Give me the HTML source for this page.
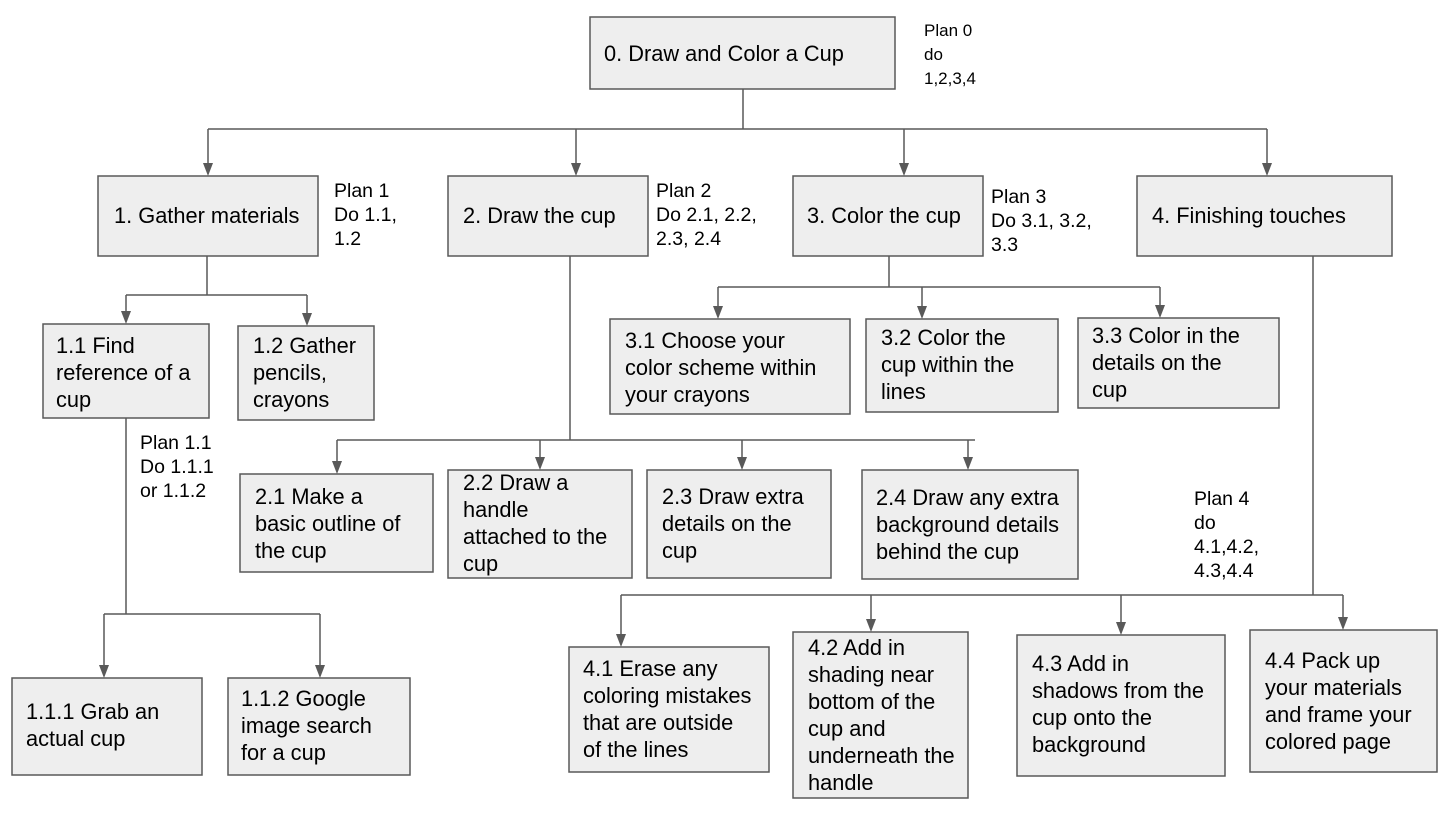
<!DOCTYPE html>
<html><head><meta charset="utf-8"><style>
body{margin:0;background:#fff}
svg text{font-family:"Liberation Sans",Arial,sans-serif;font-size:21.8px;fill:#000}
svg text.p{font-size:19.5px}
svg text.q{font-size:17px}
</style></head><body>
<svg width="1443" height="812" xmlns="http://www.w3.org/2000/svg">
<g fill="#eeeeee" stroke="#595959" stroke-width="1.5">
<rect x="590" y="17" width="305" height="72"/>
<rect x="98" y="176" width="220" height="80"/>
<rect x="448" y="176" width="200" height="80"/>
<rect x="793" y="176" width="190" height="80"/>
<rect x="1137" y="176" width="255" height="80"/>
<rect x="43" y="324" width="166" height="94"/>
<rect x="238" y="326" width="136" height="94"/>
<rect x="12" y="678" width="190" height="97"/>
<rect x="228" y="678" width="182" height="97"/>
<rect x="240" y="474" width="193" height="98"/>
<rect x="448" y="470" width="184" height="108"/>
<rect x="647" y="470" width="184" height="108"/>
<rect x="862" y="470" width="216" height="109"/>
<rect x="610" y="319" width="240" height="95"/>
<rect x="866" y="319" width="192" height="93"/>
<rect x="1078" y="318" width="201" height="90"/>
<rect x="569" y="647" width="200" height="125"/>
<rect x="793" y="632" width="175" height="166"/>
<rect x="1017" y="635" width="208" height="141"/>
<rect x="1250" y="630" width="187" height="142"/>
</g>
<g stroke="#595959" stroke-width="1.5" fill="none">
<path d="M743 89V129M208 129H1267"/>
<path d="M208 129V164M576 129V164M904 129V164M1267 129V164"/>
<path d="M207 256V295M126 295H307M126 295V312M307 295V314"/>
<path d="M126 418V614M104 614H320M104 614V666M320 614V666"/>
<path d="M570 256V440M337 440H975M337 440V462M540 440V458M742 440V458M968 440V458"/>
<path d="M889 256V287M718 287H1160M718 287V307M922 287V307M1160 287V306"/>
<path d="M1313 256V595M621 595H1343M621 595V635M871 595V620M1121 595V623M1343 595V618"/>
</g>
<g fill="#595959">
<path d="M203 163h10l-5 13z"/><path d="M571 163h10l-5 13z"/><path d="M899 163h10l-5 13z"/><path d="M1262 163h10l-5 13z"/>
<path d="M121 311h10l-5 13z"/><path d="M302 313h10l-5 13z"/>
<path d="M99 665h10l-5 13z"/><path d="M315 665h10l-5 13z"/>
<path d="M332 461h10l-5 13z"/><path d="M535 457h10l-5 13z"/><path d="M737 457h10l-5 13z"/><path d="M963 457h10l-5 13z"/>
<path d="M713 306h10l-5 13z"/><path d="M917 306h10l-5 13z"/><path d="M1155 305h10l-5 13z"/>
<path d="M616 634h10l-5 13z"/><path d="M866 619h10l-5 13z"/><path d="M1116 622h10l-5 13z"/><path d="M1338 617h10l-5 13z"/>
</g>
<text x="604" y="61">0. Draw and Color a Cup</text>
<text class="q" x="924" y="36">Plan 0</text><text class="q" x="924" y="60">do</text><text class="q" x="924" y="84">1,2,3,4</text>
<text x="114" y="223">1. Gather materials</text>
<text class="p" x="334" y="197">Plan 1</text><text class="p" x="334" y="221">Do 1.1,</text><text class="p" x="334" y="245">1.2</text>
<text x="463" y="223">2. Draw the cup</text>
<text class="p" x="656" y="197">Plan 2</text><text class="p" x="656" y="221">Do 2.1, 2.2,</text><text class="p" x="656" y="245">2.3, 2.4</text>
<text x="807" y="223">3. Color the cup</text>
<text class="p" x="991" y="203">Plan 3</text><text class="p" x="991" y="227">Do 3.1, 3.2,</text><text class="p" x="991" y="251">3.3</text>
<text x="1152" y="223">4. Finishing touches</text>
<text x="56" y="353">1.1 Find</text><text x="56" y="380">reference of a</text><text x="56" y="407">cup</text>
<text x="253" y="353">1.2 Gather</text><text x="253" y="380">pencils,</text><text x="253" y="407">crayons</text>
<text class="p" x="140" y="449">Plan 1.1</text><text class="p" x="140" y="473">Do 1.1.1</text><text class="p" x="140" y="497">or 1.1.2</text>
<text x="26" y="719">1.1.1  Grab an</text><text x="26" y="746">actual cup</text>
<text x="241" y="706">1.1.2  Google</text><text x="241" y="733">image search</text><text x="241" y="760">for a cup</text>
<text x="255" y="504">2.1 Make a</text><text x="255" y="531">basic outline of</text><text x="255" y="558">the cup</text>
<text x="463" y="490">2.2 Draw a</text><text x="463" y="517">handle</text><text x="463" y="544">attached to the</text><text x="463" y="571">cup</text>
<text x="662" y="504">2.3 Draw extra</text><text x="662" y="531">details on the</text><text x="662" y="558">cup</text>
<text x="876" y="505">2.4 Draw any extra</text><text x="876" y="532">background details</text><text x="876" y="559">behind the cup</text>
<text x="625" y="348">3.1 Choose your</text><text x="625" y="375">color scheme within</text><text x="625" y="402">your crayons</text>
<text x="881" y="345">3.2 Color the</text><text x="881" y="372">cup within the</text><text x="881" y="399">lines</text>
<text x="1092" y="343">3.3 Color in the</text><text x="1092" y="370">details on the</text><text x="1092" y="397">cup</text>
<text class="p" x="1194" y="505">Plan 4</text><text class="p" x="1194" y="529">do</text><text class="p" x="1194" y="553">4.1,4.2,</text><text class="p" x="1194" y="577">4.3,4.4</text>
<text x="583" y="676">4.1 Erase any</text><text x="583" y="703">coloring mistakes</text><text x="583" y="730">that are outside</text><text x="583" y="757">of the lines</text>
<text x="808" y="655">4.2 Add in</text><text x="808" y="682">shading near</text><text x="808" y="709">bottom of the</text><text x="808" y="736">cup and</text><text x="808" y="763">underneath the</text><text x="808" y="790">handle</text>
<text x="1032" y="671">4.3 Add in</text><text x="1032" y="698">shadows from the</text><text x="1032" y="725">cup onto the</text><text x="1032" y="752">background</text>
<text x="1265" y="668">4.4 Pack up</text><text x="1265" y="695">your materials</text><text x="1265" y="722">and frame your</text><text x="1265" y="749">colored page</text>
</svg>
</body></html>
